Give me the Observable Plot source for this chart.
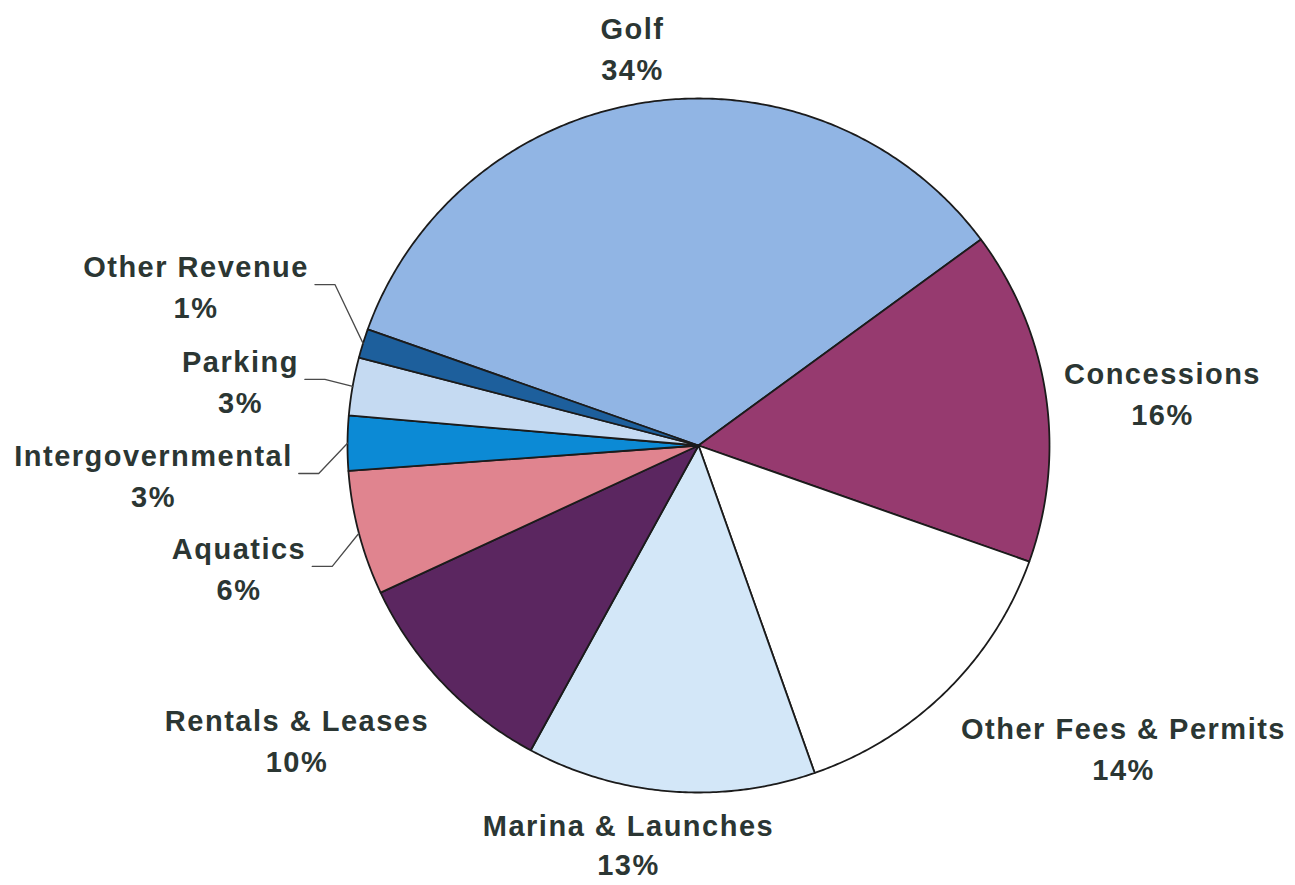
<!DOCTYPE html>
<html><head><meta charset="utf-8">
<script src="https://cdn.jsdelivr.net/npm/d3@7"></script>
<script src="https://cdn.jsdelivr.net/npm/@observablehq/plot@0.6"></script>
<style>
  html,body{margin:0;padding:0;background:#fff;}
  #chart{width:1295px;height:885px;overflow:hidden;}
</style>
</head><body><div id="chart"></div>
<script>
// ---- data ----
const categories = ["Golf","Concessions","Other Fees & Permits","Marina & Launches","Rentals & Leases","Aquatics","Intergovernmental","Parking","Other Revenue"];
const shares = [34.45, 15.55, 14.2, 13.3, 10.1, 5.8, 2.55, 2.7, 1.35];
const colors = ["#91b5e4","#963a6f","#ffffff","#d3e7f8","#5b2660","#e0848f","#0c8ad5","#c5daf2","#1d5f9c"];

// ---- layout (pixels / styles) ----
const W = 1295, H = 885, CX = 698, CY = 445, RX = 351, RY = 347;
const START = -70.45;            // degrees clockwise from north where Golf starts
const FONT = 29, LETTER = 1.5;
// pixel offsets from each slice's outer-edge midpoint to its label centre
const labelNudge = {
  "Golf": [-14.5, -55.7],
  "Concessions": [116.8, -3.1],
  "Other Fees & Permits": [177.3, 55.2],
  "Marina & Launches": [-41.8, 52],
  "Rentals & Leases": [-146, 55.1],
  "Aquatics": [-119.9, 33.2],
  "Intergovernmental": [-194, 30.3],
  "Parking": [-112.2, -6.8],
  "Other Revenue": [-167, -58.8]
};
const lineHeights = {"Marina & Launches": 1.33};
const withLeader = new Set(["Aquatics","Intergovernmental","Parking","Other Revenue"]);

// ---- build geometry ----
const xs = d3.scaleLinear([-1, 1], [CX - RX, CX + RX]);
const ys = d3.scaleLinear([-1, 1], [CY + RY, CY - RY]);
const total = d3.sum(shares);
const rad = d => d * Math.PI / 180;

const slicePts = [];
const labels = [];
const leaderPts = [];
const ctx = document.createElement("canvas").getContext("2d");
ctx.font = `bold ${FONT}px "Liberation Sans", Arial, sans-serif`;

let a = START;
categories.forEach((name, i) => {
  const span = shares[i] / total * 360;
  const a0 = a, a1 = a + span;
  a = a1;
  slicePts.push({name, x: 0, y: 0});
  const n = Math.max(2, Math.ceil(span / 0.5));
  for (let k = 0; k <= n; k++) {
    const t = rad(a0 + (a1 - a0) * k / n);
    slicePts.push({name, x: Math.sin(t), y: Math.cos(t)});
  }
  slicePts.push({name, x: 0, y: 0});

  const mid = rad((a0 + a1) / 2);
  const ex = Math.sin(mid), ey = Math.cos(mid);
  const [dx, dy] = labelNudge[name];
  const px = xs(ex) + dx, py = ys(ey) + dy;
  labels.push({name, x: xs.invert(px), y: ys.invert(py),
               lh: lineHeights[name] ?? 1.41,
               text: `${name}\n${Math.round(shares[i])}%`});
  if (withLeader.has(name)) {
    const half = (ctx.measureText(name).width + LETTER * name.length) / 2;
    const endX = px + half + 6, elbowX = endX + 20;
    leaderPts.push({name, x: ex, y: ey});
    leaderPts.push({name, x: xs.invert(elbowX), y: ys.invert(py)});
    leaderPts.push({name, x: xs.invert(endX), y: ys.invert(py)});
  }
});

const textOpts = {x: "x", y: "y", text: "text", textAnchor: "middle", lineAnchor: "middle",
  fontSize: FONT, fontWeight: "bold", fill: "#2b3633"};

const chart = Plot.plot({
  width: W, height: H, margin: 0,
  x: {domain: [-1, 1], range: [CX - RX, CX + RX], axis: null},
  y: {domain: [-1, 1], range: [CY + RY, CY - RY], axis: null},
  color: {domain: categories, range: colors},
  style: {fontFamily: '"Liberation Sans", Arial, sans-serif', letterSpacing: LETTER + "px", background: "#fff"},
  marks: [
    Plot.line(slicePts, {x: "x", y: "y", z: "name", fill: "name", stroke: "#1b1b1b", strokeWidth: 1.8, strokeLinejoin: "round"}),
    Plot.line(leaderPts, {x: "x", y: "y", z: "name", stroke: "#4a4a4a", strokeWidth: 1.3}),
    Plot.text(labels.filter(d => d.lh === 1.41), {...textOpts, lineHeight: 1.41}),
    Plot.text(labels.filter(d => d.lh !== 1.41), {...textOpts, lineHeight: 1.33})
  ]
});
document.getElementById("chart").appendChild(chart);
</script>
</body></html>
